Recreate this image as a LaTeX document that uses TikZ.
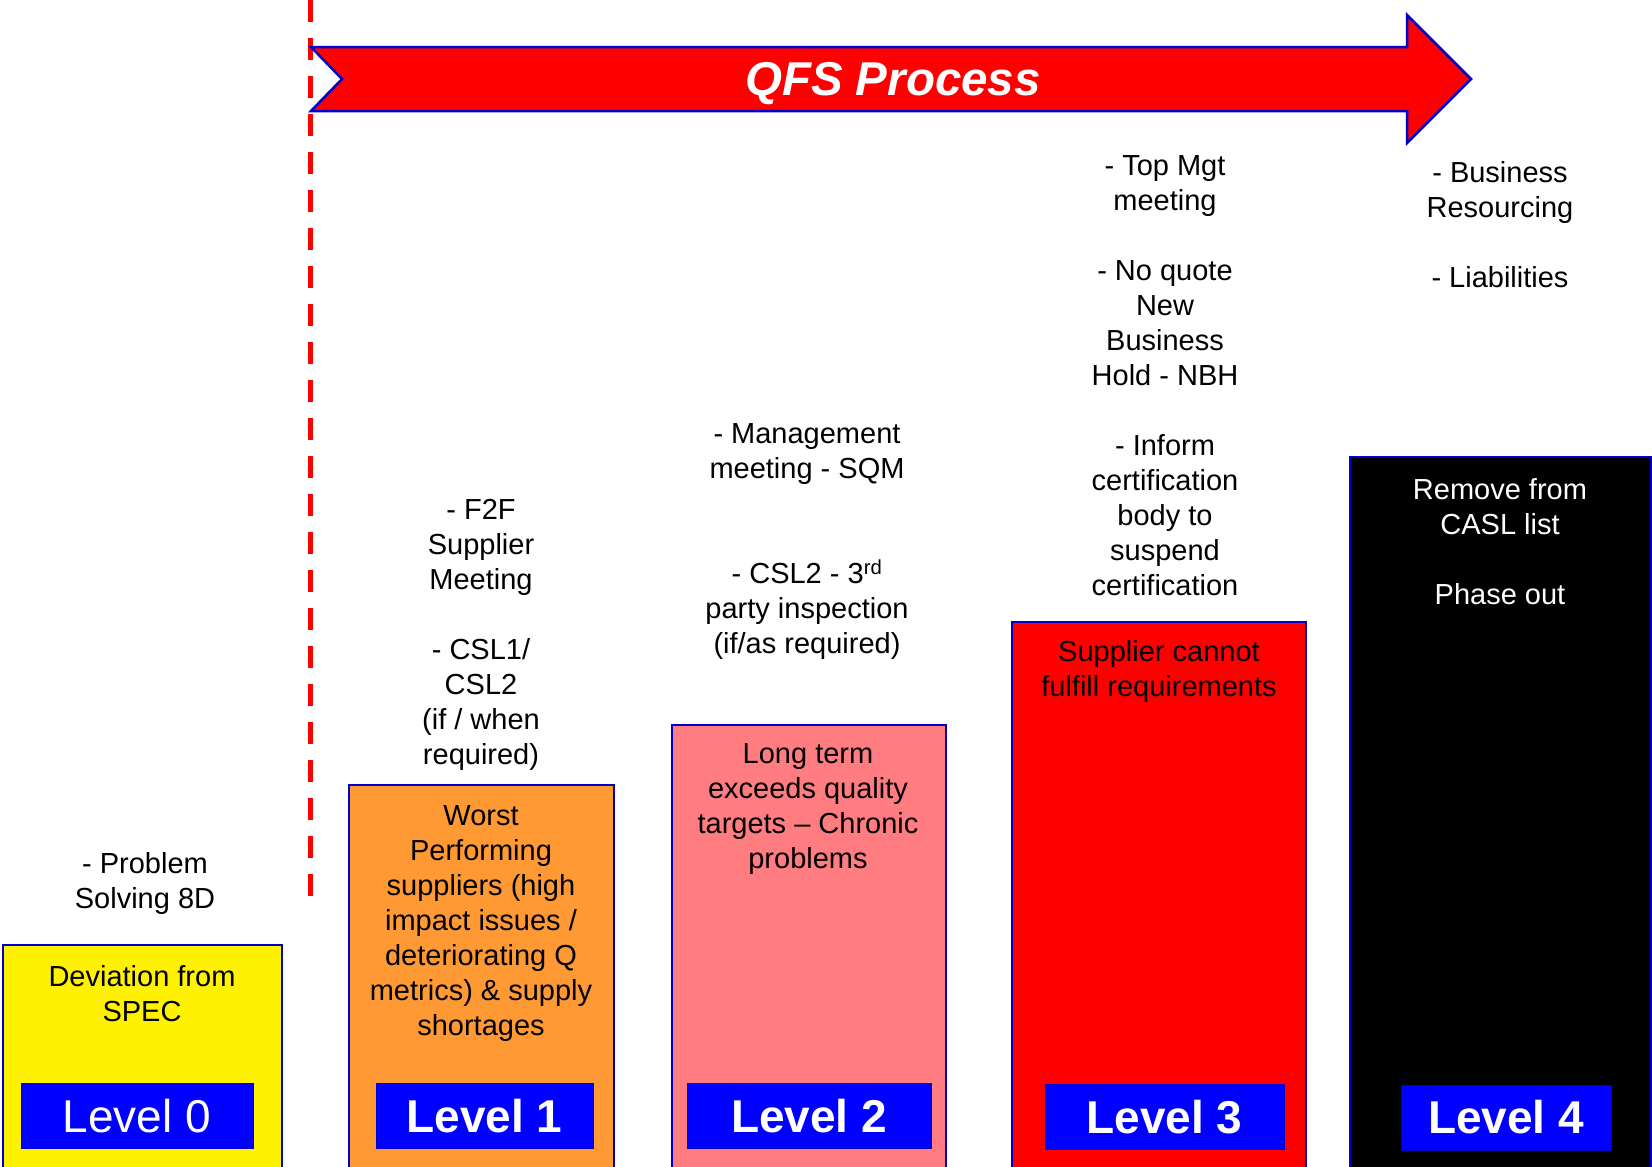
\documentclass[tikz,border=0pt]{standalone}
\usepackage{fontspec}
\setmainfont{Liberation Sans}
\usepackage{tikz}

\definecolor{qorange}{HTML}{FF9933}
\definecolor{qpink}{HTML}{FF7C80}
\definecolor{qframe}{HTML}{0000CC}

\begin{document}
\begin{tikzpicture}[x=1pt, y=-1pt,
  box/.style={draw=qframe, line width=2.5pt},
  lvl/.style={fill=blue, draw=qframe, line width=1pt, text=white, minimum height=65pt, inner sep=0pt, font=\fontsize{46}{55}\selectfont\bfseries},
  txt/.style={align=center, inner sep=0pt, font=\fontsize{29}{35}\selectfont}]
  \useasboundingbox (0,0) rectangle (1652,1167);

  % Dashed start line
  \draw[red, line width=5pt, dash pattern=on 22pt off 16pt] (310,0) -- (310,898);

  % Process arrow
  \draw[fill=red, draw=qframe, line width=2.5pt] (311,47) -- (1407,47) -- (1407,15) -- (1471,79)
    -- (1407,143) -- (1407,111) -- (311,111) -- (342,79) -- cycle;
  \node[text=white, font=\fontsize{47.5}{57}\selectfont\bfseries\itshape] (qfs) at (893,84) {QFS Process};

  % Level boxes
  \draw[box, fill=yellow] (3,945) rectangle (282,1172);
  \draw[box, fill=qorange] (349,785) rectangle (614,1172);
  \draw[box, fill=qpink] (672,725) rectangle (946,1172);
  \draw[box, fill=red] (1012,622) rectangle (1306,1172);
  \draw[box, fill=black] (1350,457) rectangle (1651,1172);

  % Level tags
  \node[lvl, minimum width=232pt, font=\fontsize{46}{55}\selectfont] (lvl0) at (137,1116) {Level 0};
  \node[lvl, minimum width=217pt] (lvl1) at (484.5,1116) {Level 1};
  \node[lvl, minimum width=244pt] (lvl2) at (809,1116) {Level 2};
  \node[lvl, minimum width=239pt] (lvl3) at (1164.5,1117) {Level 3};
  \node[lvl, minimum width=210pt] (lvl4) at (1506,1117.5) {Level 4};

  % Texts inside the boxes
  \node[txt] (in0) at (142,994) {Deviation from\\SPEC};
  \node[txt] (in1) at (481,924) {Worst\\Performing\\suppliers (high\\impact issues /\\deteriorating Q\\metrics) \& supply\\shortages};
  \node[txt] (in2) at (808,809) {Long term\\exceeds quality\\targets – Chronic\\problems};
  \node[txt] (in3) at (1159,671) {Supplier cannot\\fulfill requirements};
  \node[txt, text=white] (in4) at (1500,542) {Remove from\\CASL list\\[35pt]Phase out};

  % Actions above the boxes
  \node[txt] (act0) at (145,883) {- Problem\\Solving 8D};
  \node[txt] (act1) at (481,635) {- F2F\\Supplier\\Meeting\\[35pt]- CSL1/\\CSL2\\(if / when\\required)};
  \node[txt] (act2) at (807,542) {- Management\\meeting - SQM\\[70pt]- CSL2 - 3\textsuperscript{rd}\\party inspection\\(if/as required)};
  \node[txt] (act3) at (1165,376) {- Top Mgt\\meeting\\[35pt]- No quote\\New\\Business\\Hold - NBH\\[35pt]- Inform\\certification\\body to\\suspend\\certification};
  \node[txt] (act4) at (1500,225) {- Business\\Resourcing\\[35pt]- Liabilities};
\end{tikzpicture}
\end{document}
